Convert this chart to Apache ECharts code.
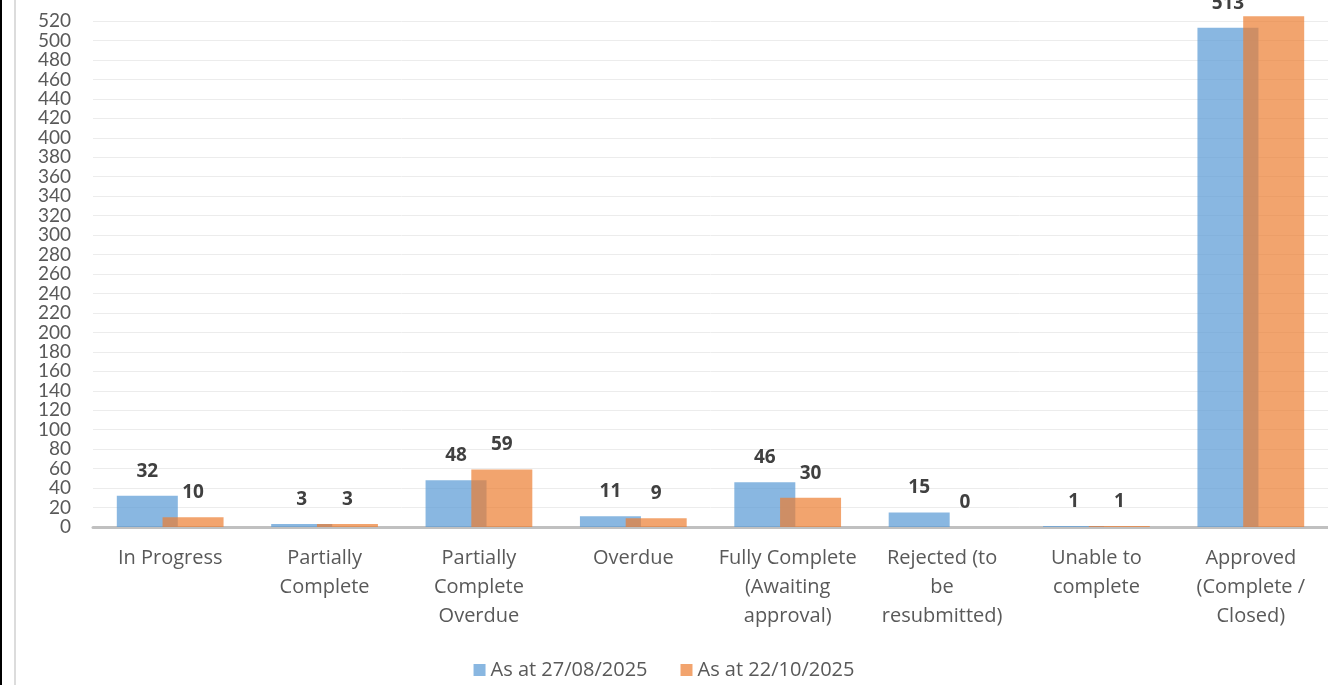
<!DOCTYPE html>
<html><head><meta charset="utf-8">
<script src="https://cdn.jsdelivr.net/npm/echarts@6/dist/echarts.min.js"></script>
<style>html,body{margin:0;padding:0;background:#fff}#c{width:1328px;height:685px}</style>
</head><body><div id="c"></div>
<script>
const categories = ["In Progress", "Partially\nComplete", "Partially\nComplete\nOverdue", "Overdue", "Fully Complete\n(Awaiting\napproval)", "Rejected (to\nbe\nresubmitted)", "Unable to\ncomplete", "Approved\n(Complete /\nClosed)"];
const seriesNames = ["As at 27/08/2025", "As at 22/10/2025"];
const valuesAug = [32, 3, 48, 11, 46, 15, 1, 513];
const valuesOct = [10, 3, 59, 9, 30, 0, 1, 525];

const FONT = 'Open Sans';
const chart = echarts.init(document.getElementById('c'), null, {renderer: 'canvas'});
const labelCfg = {show: true, position: 'top', distance: 15, fontFamily: FONT, fontSize: 19, fontWeight: 'bold', color: '#404040'};
chart.setOption({
  animation: false,
  textStyle: {fontFamily: FONT},
  graphic: [
    {type: 'rect', shape: {x: 0, y: 0, width: 2, height: 685}, style: {fill: '#000'}},
    {type: 'rect', shape: {x: 14, y: 0, width: 2, height: 685}, style: {fill: '#dcdcdc'}}
  ],
  grid: {left: 93, right: 0, top: 21, bottom: 158, containLabel: false},
  legend: {
    bottom: 0, left: 'center', itemWidth: 12, itemHeight: 12, itemGap: 33,
    icon: 'rect',
    textStyle: {fontFamily: FONT, fontSize: 20, color: '#595959'},
    data: seriesNames
  },
  xAxis: {
    type: 'category', data: categories,
    axisLine: {lineStyle: {color: '#c0c0c0', width: 3}},
    axisTick: {show: false},
    axisLabel: {interval: 0, margin: 17, fontFamily: FONT, fontSize: 20, color: '#595959', lineHeight: 29}
  },
  yAxis: {
    type: 'value', min: 0, max: 520, interval: 20,
    axisLine: {show: false}, axisTick: {show: false},
    splitLine: {lineStyle: {color: '#ececec', width: 1}},
    axisLabel: {margin: 22, fontFamily: 'Lato', fontSize: 19, lineHeight: 19, color: '#595959',
                showMinLabel: true, showMaxLabel: true}
  },
  series: [
    {name: seriesNames[0], type: 'bar', data: valuesAug, barWidth: 61, barGap: '-25%', clip: false,
     itemStyle: {color: 'rgba(91,155,213,0.72)'}, label: labelCfg, z: 2},
    {name: seriesNames[1], type: 'bar', data: valuesOct, barWidth: 61, barGap: '-25%', clip: false,
     itemStyle: {color: 'rgba(237,125,49,0.7)'}, label: labelCfg, z: 2}
  ]
});
</script></body></html>
